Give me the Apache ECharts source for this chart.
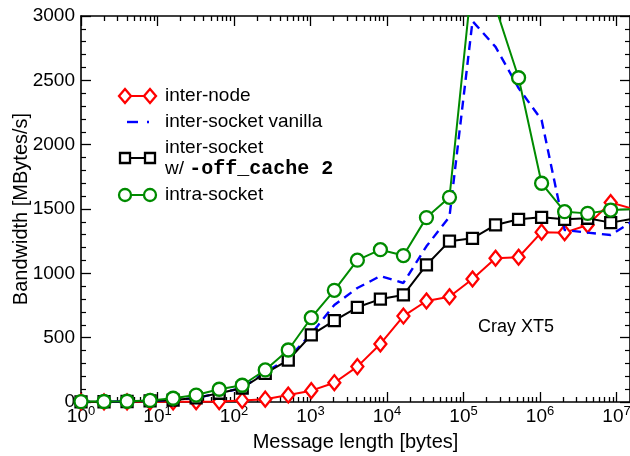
<!DOCTYPE html>
<html><head><meta charset="utf-8">
<script src="https://cdn.jsdelivr.net/npm/echarts@6/dist/echarts.min.js"></script>
<style>html,body{margin:0;padding:0;background:#fff}#c{width:630px;height:456px}</style>
</head><body><div id="c"></div>
<script>
// ---- data ----
const msgSizes = [1,2,4,8,16,32,64,128,256,512,1024,2048,4096,8192,16384,32768,65536,131072,262144,524288,1048576,2097152,4194304,8388608,16777216];
const interNode = [0.5,0.5,1,1,1,2,3,12,22,54,88,150,275,451,668,785,818,956,1117,1125,1320,1316,1376,1550,1500];
const interSocketVanilla = [1,2,4,8,15,32,68,109,230,340,530,754,886,979,925,1210,1440,2960,2760,2440,2192,1337,1316,1298,1410];
const interSocketOffCache = [1,2,4,8,15,32,68,109,222,326,521,632,736,800,832,1065,1250,1272,1376,1420,1435,1420,1428,1394,1425];
const intraSocket = [3,4,6,12,29,54,99,130,249,404,655,868,1102,1184,1138,1433,1591,3320,3070,2520,1700,1479,1466,1492,1500];
const xMajorTicks = [1,10,100,1000,10000,100000,1000000,10000000];
const xMinorTicks = [];
xMajorTicks.forEach(d => { for (let m = 2; m <= 9; m++) { if (d*m <= 1.5e7) xMinorTicks.push(d*m); } });
const yTicks = [0,500,1000,1500,2000,2500,3000];
const seriesNames = ['inter-node','inter-socket vanilla','inter-socket','intra-socket'];

const FONT = "'Liberation Sans', Arial, Helvetica, sans-serif";
const MONO = "'Liberation Mono', 'Courier New', monospace";
const XMAX = 1.5e7;

const chart = echarts.init(document.getElementById('c'), null, {renderer:'canvas'});
const pairs = arr => msgSizes.map((s,i) => [s, arr[i]]);

const baseX = (pos, showLine, ticks, len, labels) => ({
  type:'log', min:1, max:XMAX, position:pos, gridIndex:0,
  axisLine:{show:showLine, lineStyle:{color:'#000', width:1.6}},
  axisTick:{show:true, inside:true, length:len, customValues:ticks, lineStyle:{color:'#000', width:1.3}},
  axisLabel: labels ? {
    show:true, customValues:xMajorTicks, margin:3, color:'#000',
    formatter: v => '{b|10}{s|' + Math.round(Math.log10(v)) + '}',
    rich:{ b:{fontSize:19, fontFamily:FONT, color:'#000', lineHeight:24},
           s:{fontSize:13, fontFamily:FONT, color:'#000', verticalAlign:'top'} }
  } : {show:false},
  splitLine:{show:false}, minorTick:{show:false}, minorSplitLine:{show:false}
});

const baseY = (pos, labels) => ({
  type:'value', min:0, max:3000, interval:500, position:pos, gridIndex:0,
  axisLine:{show:true, lineStyle:{color:'#000', width:1.6}},
  axisTick:{show:true, inside:true, length:10, lineStyle:{color:'#000', width:1.3}},
  minorTick:{show:true, splitNumber:5, length:5, lineStyle:{color:'#000', width:1.2}},
  axisLabel: labels ? {show:true, customValues:yTicks, formatter: v => String(v), fontSize:19, fontFamily:FONT, color:'#000', margin:6} : {show:false},
  splitLine:{show:false}, minorSplitLine:{show:false}
});

const xAxes = [
  Object.assign(baseX('bottom', true, xMajorTicks, 10, true), {
    name:'Message length [bytes]', nameLocation:'middle', nameGap:30, nameMoveOverlap:false,
    nameTextStyle:{fontSize:20, fontFamily:FONT, color:'#000'}
  }),
  baseX('bottom', false, xMinorTicks, 5, false),
  baseX('top', true, xMajorTicks, 10, false),
  baseX('top', false, xMinorTicks, 5, false)
];
const yAxes = [
  Object.assign(baseY('left', true), {
    name:'Bandwidth [MBytes/s]', nameLocation:'middle', nameGap:50, nameRotate:90, nameMoveOverlap:false,
    nameTextStyle:{fontSize:20, fontFamily:FONT, color:'#000'}
  }),
  baseY('right', false)
];

const mk = (name, data, color, symbol, size, dashed, z) => ({
  name, type:'line', xAxisIndex:0, yAxisIndex:0, data:pairs(data), z,
  symbol: symbol || 'none', symbolSize:size, showSymbol: !!symbol, clip:true,
  lineStyle:{color, width: dashed ? 2.4 : 2, type: dashed ? [9,6] : 'solid'},
  itemStyle:{color:'#fff', borderColor:color, borderWidth:2.3},
  emphasis:{disabled:true}, silent:true
});

// legend drawn as graphics
const legendY = [96, 122, 158, 195];
const lx1 = 125, lx2 = 150, tx = 165;
const g = [];
g.push({type:'line', shape:{x1:lx1,y1:legendY[0],x2:lx2,y2:legendY[0]}, style:{stroke:'#f00', lineWidth:2}});
[lx1,lx2].forEach(x => g.push({type:'polygon', shape:{points:[[x,legendY[0]-7],[x+6,legendY[0]],[x,legendY[0]+7],[x-6,legendY[0]]]}, style:{fill:'#fff', stroke:'#f00', lineWidth:2.3}}));
g.push({type:'line', shape:{x1:127,y1:legendY[1],x2:138,y2:legendY[1]}, style:{stroke:'#00f', lineWidth:2.4}});
g.push({type:'line', shape:{x1:147,y1:legendY[1],x2:149,y2:legendY[1]}, style:{stroke:'#00f', lineWidth:2.4}});
g.push({type:'line', shape:{x1:lx1,y1:legendY[2],x2:lx2,y2:legendY[2]}, style:{stroke:'#000', lineWidth:2}});
[lx1,lx2].forEach(x => g.push({type:'rect', shape:{x:x-5,y:legendY[2]-5,width:10,height:10}, style:{fill:'#fff', stroke:'#000', lineWidth:2.3}}));
g.push({type:'line', shape:{x1:lx1,y1:legendY[3],x2:lx2,y2:legendY[3]}, style:{stroke:'#008b00', lineWidth:2}});
[lx1,lx2].forEach(x => g.push({type:'circle', shape:{cx:x,cy:legendY[3],r:6}, style:{fill:'#fff', stroke:'#008b00', lineWidth:2.3}}));
const ts = {fontSize:19, fontFamily:FONT, fill:'#000', verticalAlign:'middle'};
g.push({type:'text', x:tx, y:legendY[0], style:Object.assign({text:seriesNames[0]}, ts)});
g.push({type:'text', x:tx, y:legendY[1], style:Object.assign({text:seriesNames[1]}, ts)});
g.push({type:'text', x:tx, y:legendY[2], style:{
  text:'{a|' + seriesNames[2] + '}\n{a|w/ }{m|-off_cache 2}', verticalAlign:'middle',
  rich:{ a:{fontSize:19, fontFamily:FONT, fill:'#000', lineHeight:21},
         m:{fontSize:20, fontFamily:MONO, fontWeight:'bold', fill:'#000', lineHeight:21} } }});
g.push({type:'text', x:tx, y:legendY[3], style:Object.assign({text:seriesNames[3]}, ts)});
g.push({type:'text', x:478, y:327, style:{text:'Cray XT5', fontSize:18, fontFamily:FONT, fill:'#000', verticalAlign:'middle'}});

chart.setOption({
  animation:false,
  backgroundColor:'#fff',
  grid:{left:81, right:0, top:16, bottom:54, containLabel:false, outerBoundsMode:'none'},
  xAxis:xAxes,
  yAxis:yAxes,
  series:[
    mk(seriesNames[0], interNode, '#ff0000', 'diamond', [12,15], false, 2),
    mk(seriesNames[1], interSocketVanilla, '#0000ff', null, 0, true, 3),
    mk(seriesNames[2], interSocketOffCache, '#000000', 'rect', 11, false, 4),
    mk(seriesNames[3], intraSocket, '#008b00', 'circle', 13, false, 5)
  ],
  graphic:g
});
</script>
</body></html>
